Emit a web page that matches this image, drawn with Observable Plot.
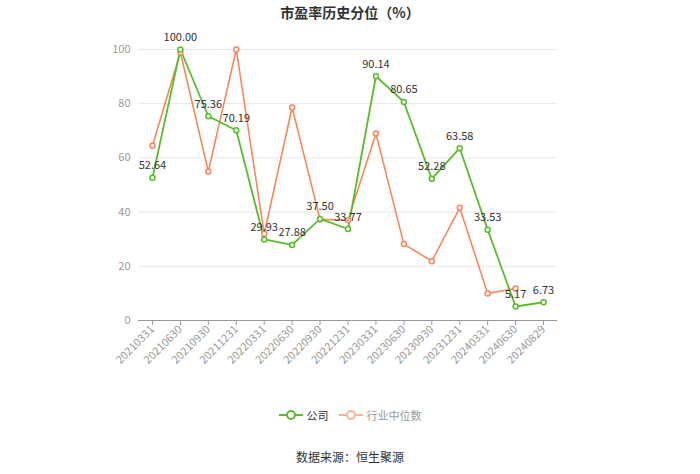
<!DOCTYPE html>
<html>
<head>
<meta charset="utf-8">
<script src="https://cdn.jsdelivr.net/npm/d3@7"></script>
<script src="https://cdn.jsdelivr.net/npm/@observablehq/plot@0.6"></script>
<style>
  html, body { margin: 0; padding: 0; background: #fff; }
  body { width: 700px; height: 474px; position: relative; overflow: hidden; font-family: "Noto Sans CJK SC", "Noto Sans", sans-serif; }
  #title { position: absolute; top: 2px; left: 0; width: 700px; text-align: center; font-size: 14px; font-weight: bold; color: #333; }
  #chart { position: absolute; top: 0; left: 0; }
  #legend { position: absolute; top: 407px; left: 0; width: 700px; display: flex; justify-content: center; gap: 10px; font-size: 11px; }
  .item { display: flex; align-items: center; gap: 4px; }
  #caption { position: absolute; top: 448px; left: 0; width: 700px; text-align: center; font-size: 12px; color: #333; }
</style>
</head>
<body>
<div id="chart"></div>
<div id="title">市盈率历史分位（%）</div>
<div id="legend"></div>
<div id="caption">数据来源：恒生聚源</div>
<script>
const dates = ["20210331","20210630","20210930","20211231","20220331","20220630","20220930","20221231","20230331","20230630","20230930","20231231","20240331","20240630","20240829"];
const company = [52.64, 100.00, 75.36, 70.19, 29.93, 27.88, 37.50, 33.77, 90.14, 80.65, 52.28, 63.58, 33.53, 5.17, 6.73];
const industry = [64.5, 99.0, 55.0, 100.0, 32.0, 78.6, 37.3, 37.0, 69.0, 28.2, 21.9, 41.6, 10.0, 11.8, null];
const seriesNames = ["公司", "行业中位数"];
const yTicks = [0, 20, 40, 60, 80, 100];

const green = "#58bd2c";
const orange = "#f7875c";

const compRows = dates.map((d, i) => ({date: d, value: company[i]}));
const indRows = dates.map((d, i) => ({date: d, value: industry[i]})).filter(r => r.value != null);

const chart = Plot.plot({
  width: 700,
  height: 400,
  marginTop: 49,
  marginBottom: 80,
  marginLeft: 138,
  marginRight: 143,
  style: {fontFamily: "'Noto Sans CJK SC', 'Noto Sans', sans-serif", fontSize: "11px", background: "transparent"},
  x: {type: "point", domain: dates, padding: 0.5, round: false, label: null},
  y: {domain: [0, 100], label: null},
  marks: [
    Plot.ruleY(yTicks.filter(t => t > 0), {stroke: "#e6e6e6", strokeWidth: 1}),
    Plot.axisY(yTicks, {tickSize: 0, tickPadding: 8, fill: "#999", label: null}),
    Plot.axisX({tickRotate: -45, tickSize: 5, tickPadding: 2, stroke: "#999", fill: "#999", label: null}),
    Plot.ruleY([0], {stroke: "#999", strokeWidth: 1}),
    Plot.line(indRows, {x: "date", y: "value", stroke: orange, strokeWidth: 1.6}),
    Plot.line(compRows, {x: "date", y: "value", stroke: green, strokeWidth: 1.8}),
    Plot.dot(indRows, {x: "date", y: "value", r: 2.5, stroke: orange, strokeWidth: 1.5, fill: "#fff"}),
    Plot.dot(compRows, {x: "date", y: "value", r: 2.5, stroke: green, strokeWidth: 1.5, fill: "#fff"}),
    Plot.text(compRows, {x: "date", y: "value", text: d => d.value.toFixed(2), dy: -12, fill: "#333", fontSize: 11})
  ]
});
document.getElementById("chart").appendChild(chart);

const legend = document.getElementById("legend");
const colors = [green, orange];
const textColors = ["#333", "#999"];
seriesNames.forEach((name, i) => {
  const item = document.createElement("div");
  item.className = "item";
  const c = i === 1 ? "#f5b49a" : colors[i];
  item.innerHTML = `<svg width="24" height="12"><line x1="0" y1="6" x2="24" y2="6" stroke="${c}" stroke-width="2"/><circle cx="12" cy="6" r="4" fill="#fff" stroke="${c}" stroke-width="2"/></svg><span style="color:${textColors[i]}">${name}</span>`;
  legend.appendChild(item);
});
</script>
</body>
</html>
